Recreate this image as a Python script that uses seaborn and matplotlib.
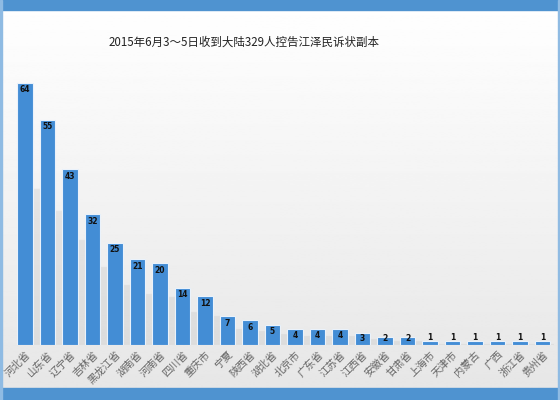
import numpy as np
import pandas as pd
import matplotlib
matplotlib.use("Agg")
import matplotlib.pyplot as plt
import seaborn as sns
from matplotlib.patches import Rectangle

provinces = ["河北省", "山东省", "辽宁省", "吉林省", "黑龙江省", "湖南省", "河南省", "四川省",
             "重庆市", "宁夏", "陕西省", "湖北省", "北京市", "广东省", "江苏省", "江西省",
             "安徽省", "甘肃省", "上海市", "天津市", "内蒙古", "广西", "浙江省", "贵州省"]
counts = [64, 55, 43, 32, 25, 21, 20, 14, 12, 7, 6, 5, 4, 4, 4, 3, 2, 2, 1, 1, 1, 1, 1, 1]
title = "2015年6月3～5日收到大陆329人控告江泽民诉状副本"

df = pd.DataFrame({"province": provinces, "count": counts})

sns.set_style("white")
plt.rcParams["font.family"] = ["Noto Sans CJK SC", "DejaVu Sans"]

fig = plt.figure(figsize=(5.6, 4), dpi=100)
frame = "#4f93d0"

# background gradient and frame
bg = fig.add_axes([0, 0, 1, 1], zorder=0)
grad = np.linspace(1.0, 0.90, 256).reshape(-1, 1)
bg.imshow(grad, cmap="gray", vmin=0, vmax=1, aspect="auto",
          extent=[0, 1, 0, 1], origin="upper")
bg.add_patch(Rectangle((0, 1 - 10 / 400), 1, 10 / 400, color=frame))
bg.add_patch(Rectangle((0, 0), 1, 12 / 400, color=frame))
bg.add_patch(Rectangle((0, 0), 2 / 560, 1, color="#8fbbe3"))
bg.add_patch(Rectangle((1 - 2 / 560, 0), 2 / 560, 1, color="#8fbbe3"))
bg.set_xlim(0, 1)
bg.set_ylim(0, 1)
bg.axis("off")

ax = fig.add_axes([13.75 / 560, 55 / 400, 540 / 560, 287 / 400], zorder=1)
ax.patch.set_alpha(0)

# soft shadow
ax.bar(np.arange(len(counts)) + 0.3, df["count"] * 0.6, width=0.75,
       color="#b0b0b0", alpha=0.22, zorder=1)
sns.barplot(data=df, x="province", y="count", color="#438dd5", saturation=1,
            width=0.71, edgecolor="#eaf2fb", linewidth=0.8, ax=ax, zorder=2)

for i, v in enumerate(counts):
    pos = max(v - 1.8, 1.6) if v > 1 else 1.9
    ax.text(i, pos, str(v), ha="center", va="center",
            fontsize=5.5, fontweight="bold", color="#111111", zorder=3,
            family="DejaVu Sans")

ax.set_xlim(-0.5, len(counts) - 0.5)
ax.set_ylim(0, 70)
ax.set_xlabel("")
ax.set_ylabel("")
ax.set_yticks([])
ax.tick_params(axis="x", length=0, pad=3, labelsize=7.5, labelcolor="#666666")
plt.setp(ax.get_xticklabels(), rotation=45, ha="right", rotation_mode="anchor")
sns.despine(ax=ax, left=True, bottom=True)

fig.text(244 / 560, 1 - 42 / 400, title, ha="center", va="center",
         fontsize=8.3, color="#222222")

fig.savefig("out.png", dpi=100)
